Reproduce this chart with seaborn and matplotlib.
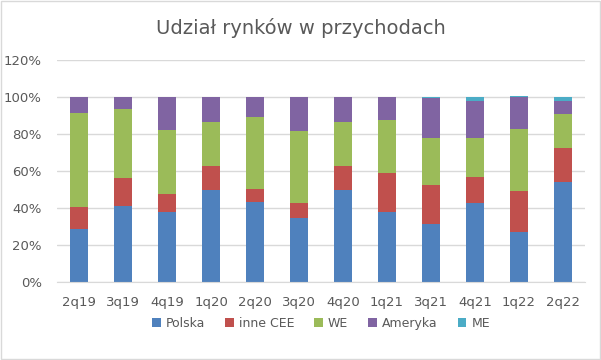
import numpy as np
import pandas as pd
import matplotlib
matplotlib.use('Agg')
import matplotlib.pyplot as plt
import seaborn as sns
from matplotlib.patches import Rectangle

# Data (share of revenue, %)
quarters = ['2q19', '3q19', '4q19', '1q20', '2q20', '3q20', '4q20', '1q21', '3q21', '4q21', '1q22', '2q22']
polska = [28.9, 41.2, 37.6, 49.9, 43.2, 34.5, 49.9, 37.7, 31.2, 42.5, 27.2, 54.1]
inne_cee = [11.9, 14.9, 9.8, 12.7, 6.9, 8.0, 12.7, 21.1, 21.1, 14.1, 21.8, 18.3]
we = [50.7, 37.5, 34.8, 24.0, 39.2, 39.2, 24.0, 28.9, 25.6, 21.3, 33.8, 18.5]
ameryka = [8.5, 6.4, 17.8, 13.4, 10.7, 18.3, 13.4, 12.3, 21.7, 19.7, 17.4, 7.1]
me = [0.0, 0.0, 0.0, 0.0, 0.0, 0.0, 0.0, 0.0, 0.4, 2.4, 0.5, 2.0]

series = {'Polska': polska, 'inne CEE': inne_cee, 'WE': we, 'Ameryka': ameryka, 'ME': me}
colors = ['#4F81BD', '#C0504D', '#9BBB59', '#8064A2', '#4BACC6']

sns.set_style('white')
plt.rcParams['font.family'] = ['DejaVu Sans']
text_col = '#595959'

fig = plt.figure(figsize=(6.01, 3.6), dpi=100)
ax = fig.add_axes([0.095, 0.2167, 0.878, 0.6166])

bottom = np.zeros(len(quarters))
for (name, vals), col in zip(series.items(), colors):
    df = pd.DataFrame({'q': quarters, 'v': vals})
    sns.barplot(data=df, x='q', y='v', color=col, width=0.41, bottom=bottom,
                ax=ax, label=name, saturation=1, edgecolor='none', linewidth=0)
    bottom = bottom + np.array(vals)

ax.set_ylim(0, 120)
ax.set_xlim(-0.5, len(quarters) - 0.5)
ax.set_yticks(range(0, 121, 20))
ax.set_yticklabels([f'{v}%' for v in range(0, 121, 20)])
ax.yaxis.grid(True, color='#D9D9D9', linewidth=1)
ax.set_axisbelow(True)
ax.set_xlabel('')
ax.set_ylabel('')
for s in ['top', 'right', 'left']:
    ax.spines[s].set_visible(False)
ax.spines['bottom'].set_color('#D9D9D9')
ax.tick_params(axis='both', length=0, labelsize=9.5, colors=text_col, pad=10)
ax.tick_params(axis='y', pad=11)

fig.suptitle('Udział rynków w przychodach', x=0.5, y=0.95, fontsize=14, color=text_col)

ax.legend(loc='center', bbox_to_anchor=(0.5, -0.185), ncol=5, frameon=False,
          fontsize=9, handlelength=0.7, handleheight=0.7, columnspacing=1.6,
          handletextpad=0.4, labelcolor=text_col)

fig.patches.append(Rectangle((0.001, 0.002), 0.997, 0.995, transform=fig.transFigure,
                             fill=False, edgecolor='#D9D9D9', linewidth=1))

fig.savefig('out.png', dpi=100, facecolor='white')
